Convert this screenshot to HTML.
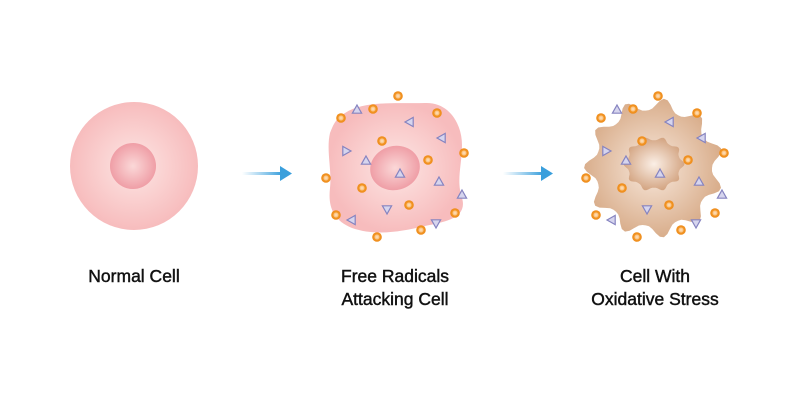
<!DOCTYPE html>
<html><head><meta charset="utf-8"><style>
html,body{margin:0;padding:0;background:#fff;width:800px;height:400px;overflow:hidden}
svg{display:block}
text{font-family:"Liberation Sans",sans-serif;font-size:17.5px;fill:#111;text-anchor:middle;stroke:#111;stroke-width:0.45}
</style></head><body>
<svg id="s" width="800" height="400" viewBox="0 0 800 400">
<defs>
<radialGradient id="pk" cx="50%" cy="50%" r="50%"><stop offset="0" stop-color="#fde6e4"/><stop offset="1" stop-color="#f7bcbd"/></radialGradient>
<radialGradient id="pkn" cx="50%" cy="50%" r="50%"><stop offset="0" stop-color="#fbd8d8"/><stop offset="1" stop-color="#ef9ea6"/></radialGradient>
<radialGradient id="tn" cx="50%" cy="50%" r="50%"><stop offset="0" stop-color="#f8e8dc"/><stop offset="1" stop-color="#d9ae8c"/></radialGradient>
<radialGradient id="tnn" cx="50%" cy="50%" r="50%"><stop offset="0" stop-color="#fbefe6"/><stop offset="1" stop-color="#d4a684"/></radialGradient>
<radialGradient id="or" cx="50%" cy="50%" r="50%"><stop offset="0" stop-color="#fde3c4"/><stop offset="0.45" stop-color="#fbc27e"/><stop offset="0.6" stop-color="#f29524"/><stop offset="1" stop-color="#ee8a18"/></radialGradient>
<linearGradient id="ar" x1="0" x2="1"><stop offset="0" stop-color="#4aa8e0" stop-opacity="0"/><stop offset="1" stop-color="#3a9fdc"/></linearGradient>
</defs>
<circle cx="134" cy="166" r="64" fill="url(#pk)"/>
<circle cx="133" cy="166" r="23" fill="url(#pkn)"/>
<rect x="242" y="172" width="40" height="3" fill="url(#ar)"/><polygon points="280,166 292,173.5 280,181" fill="#3a9fdc"/>
<rect x="503" y="172" width="40" height="3" fill="url(#ar)"/><polygon points="541,166 553,173.5 541,181" fill="#3a9fdc"/>
<path d="M345,113 C365,100 400,104 425,103 C450,102 462,125 462,145 C462,165 456,180 462,198 C468,218 445,222 425,226 C400,232 375,236 352,228 C332,220 328,205 330,188 C332,170 326,150 330,133 C334,122 338,117 345,113 Z" fill="url(#pk)"/>
<ellipse cx="395" cy="168" rx="25" ry="22" transform="rotate(-15 395 168)" fill="url(#pkn)"/>
<g id="c3"></g>
<g id="dots"></g>
<text x="134" y="282">Normal Cell</text>
<text x="395" y="282">Free Radicals</text>
<text x="395" y="305">Attacking Cell</text>
<text x="655" y="282">Cell With</text>
<text x="655" y="305">Oxidative Stress</text>
</svg>
<script>
var ns="http://www.w3.org/2000/svg";
function wavy(cx,cy,R,r,n,rot,sx,sy){var d="";var N=n*10;for(var i=0;i<=N;i++){var a=i/N*2*Math.PI;var c=0.5+0.5*Math.cos(n*(a-rot));var rr=r+(R-r)*Math.pow(c,1.6);var x=cx+sx*rr*Math.cos(a),y=cy+sy*rr*Math.sin(a);d+=(i?"L":"M")+x.toFixed(1)+","+y.toFixed(1);}return d+"Z";}
var g=document.getElementById("c3");
var p=document.createElementNS(ns,"path");p.setAttribute("d",wavy(654,168,70,58,11,0.3,1.0,1.0));p.setAttribute("fill","url(#tn)");g.appendChild(p);
var q=document.createElementNS(ns,"path");q.setAttribute("d",wavy(654,164,29,25,10,0,1.05,0.95));q.setAttribute("fill","url(#tnn)");g.appendChild(q);
var circ=[[398,96],[373,109],[341,118],[437,113],[382,141],[464,153],[428,160],[326,178],[362,188],[409,205],[336,215],[455,213],[377,237],[421,230]];
var tri=[[357,110,0],[410,122,-90],[442,138,-90],[346,151,90],[366,161,0],[400,174,0],[439,182,0],[462,195,0],[387,209,180],[352,220,-90],[436,223,180]];
var D=document.getElementById("dots");
[0,260].forEach(function(o){
circ.forEach(function(c){var e=document.createElementNS(ns,"circle");e.setAttribute("cx",c[0]+o);e.setAttribute("cy",c[1]);e.setAttribute("r",4.8);e.setAttribute("fill","url(#or)");D.appendChild(e);});
tri.forEach(function(t){var e=document.createElementNS(ns,"polygon");e.setAttribute("points","0,-5 4.6,3.2 -4.6,3.2");e.setAttribute("fill","#d6d5ee");e.setAttribute("stroke","#8583c0");e.setAttribute("stroke-width","1.2");e.setAttribute("transform","translate("+(t[0]+o)+","+t[1]+") rotate("+t[2]+")");D.appendChild(e);});
});
</script>
</body></html>
